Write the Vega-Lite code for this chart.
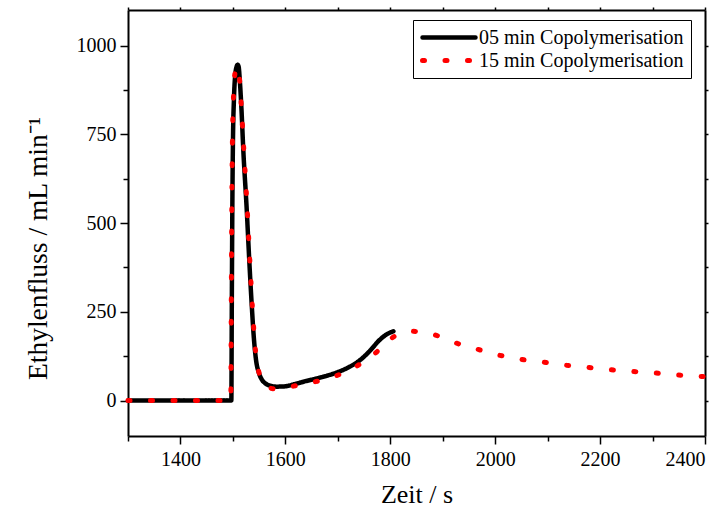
{
  "$schema": "https://vega.github.io/schema/vega-lite/v6.json",
  "width": 577,
  "height": 426,
  "autosize": "none",
  "padding": {"left": 128, "top": 10, "right": 21, "bottom": 78},
  "background": "white",
  "data": {
    "values": [
      {"s": "05 min Copolymerisation", "t": 1300, "f": 0},
      {"s": "05 min Copolymerisation", "t": 1400, "f": 0},
      {"s": "05 min Copolymerisation", "t": 1497, "f": 0},
      {"s": "05 min Copolymerisation", "t": 1498, "f": 300},
      {"s": "05 min Copolymerisation", "t": 1499, "f": 560},
      {"s": "05 min Copolymerisation", "t": 1500, "f": 720},
      {"s": "05 min Copolymerisation", "t": 1502, "f": 850},
      {"s": "05 min Copolymerisation", "t": 1504, "f": 910},
      {"s": "05 min Copolymerisation", "t": 1507, "f": 940},
      {"s": "05 min Copolymerisation", "t": 1509, "f": 946},
      {"s": "05 min Copolymerisation", "t": 1511, "f": 940},
      {"s": "05 min Copolymerisation", "t": 1513, "f": 905},
      {"s": "05 min Copolymerisation", "t": 1516, "f": 830},
      {"s": "05 min Copolymerisation", "t": 1520, "f": 700},
      {"s": "05 min Copolymerisation", "t": 1526, "f": 547},
      {"s": "05 min Copolymerisation", "t": 1531, "f": 400},
      {"s": "05 min Copolymerisation", "t": 1536, "f": 266},
      {"s": "05 min Copolymerisation", "t": 1540, "f": 175},
      {"s": "05 min Copolymerisation", "t": 1544, "f": 115},
      {"s": "05 min Copolymerisation", "t": 1550, "f": 76},
      {"s": "05 min Copolymerisation", "t": 1556, "f": 57},
      {"s": "05 min Copolymerisation", "t": 1562, "f": 48},
      {"s": "05 min Copolymerisation", "t": 1570, "f": 42},
      {"s": "05 min Copolymerisation", "t": 1583, "f": 39},
      {"s": "05 min Copolymerisation", "t": 1600, "f": 40},
      {"s": "05 min Copolymerisation", "t": 1620, "f": 47},
      {"s": "05 min Copolymerisation", "t": 1640, "f": 55},
      {"s": "05 min Copolymerisation", "t": 1660, "f": 62},
      {"s": "05 min Copolymerisation", "t": 1680, "f": 70},
      {"s": "05 min Copolymerisation", "t": 1700, "f": 80},
      {"s": "05 min Copolymerisation", "t": 1720, "f": 93},
      {"s": "05 min Copolymerisation", "t": 1740, "f": 111},
      {"s": "05 min Copolymerisation", "t": 1760, "f": 138},
      {"s": "05 min Copolymerisation", "t": 1780, "f": 171},
      {"s": "05 min Copolymerisation", "t": 1795, "f": 188},
      {"s": "05 min Copolymerisation", "t": 1806, "f": 195},
      {"s": "15 min Copolymerisation", "t": 1300, "f": 0},
      {"s": "15 min Copolymerisation", "t": 1400, "f": 0},
      {"s": "15 min Copolymerisation", "t": 1496, "f": 0},
      {"s": "15 min Copolymerisation", "t": 1497, "f": 300},
      {"s": "15 min Copolymerisation", "t": 1498, "f": 560},
      {"s": "15 min Copolymerisation", "t": 1499, "f": 720},
      {"s": "15 min Copolymerisation", "t": 1501, "f": 850},
      {"s": "15 min Copolymerisation", "t": 1503, "f": 910},
      {"s": "15 min Copolymerisation", "t": 1506, "f": 935},
      {"s": "15 min Copolymerisation", "t": 1508, "f": 940},
      {"s": "15 min Copolymerisation", "t": 1510, "f": 935},
      {"s": "15 min Copolymerisation", "t": 1513, "f": 900},
      {"s": "15 min Copolymerisation", "t": 1516, "f": 830},
      {"s": "15 min Copolymerisation", "t": 1521, "f": 700},
      {"s": "15 min Copolymerisation", "t": 1527, "f": 547},
      {"s": "15 min Copolymerisation", "t": 1532, "f": 400},
      {"s": "15 min Copolymerisation", "t": 1537, "f": 266},
      {"s": "15 min Copolymerisation", "t": 1541, "f": 175},
      {"s": "15 min Copolymerisation", "t": 1545, "f": 115},
      {"s": "15 min Copolymerisation", "t": 1551, "f": 72},
      {"s": "15 min Copolymerisation", "t": 1558, "f": 50},
      {"s": "15 min Copolymerisation", "t": 1566, "f": 38},
      {"s": "15 min Copolymerisation", "t": 1580, "f": 33},
      {"s": "15 min Copolymerisation", "t": 1600, "f": 36},
      {"s": "15 min Copolymerisation", "t": 1620, "f": 42},
      {"s": "15 min Copolymerisation", "t": 1640, "f": 48},
      {"s": "15 min Copolymerisation", "t": 1666, "f": 56},
      {"s": "15 min Copolymerisation", "t": 1690, "f": 66},
      {"s": "15 min Copolymerisation", "t": 1709, "f": 77},
      {"s": "15 min Copolymerisation", "t": 1730, "f": 92},
      {"s": "15 min Copolymerisation", "t": 1753, "f": 113},
      {"s": "15 min Copolymerisation", "t": 1775, "f": 138},
      {"s": "15 min Copolymerisation", "t": 1794, "f": 166},
      {"s": "15 min Copolymerisation", "t": 1815, "f": 186},
      {"s": "15 min Copolymerisation", "t": 1838, "f": 195},
      {"s": "15 min Copolymerisation", "t": 1860, "f": 193},
      {"s": "15 min Copolymerisation", "t": 1880, "f": 187},
      {"s": "15 min Copolymerisation", "t": 1923, "f": 163},
      {"s": "15 min Copolymerisation", "t": 1967, "f": 144},
      {"s": "15 min Copolymerisation", "t": 2001, "f": 130},
      {"s": "15 min Copolymerisation", "t": 2044, "f": 117},
      {"s": "15 min Copolymerisation", "t": 2087, "f": 109},
      {"s": "15 min Copolymerisation", "t": 2130, "f": 100},
      {"s": "15 min Copolymerisation", "t": 2173, "f": 94},
      {"s": "15 min Copolymerisation", "t": 2217, "f": 87},
      {"s": "15 min Copolymerisation", "t": 2260, "f": 82},
      {"s": "15 min Copolymerisation", "t": 2303, "f": 78},
      {"s": "15 min Copolymerisation", "t": 2347, "f": 72},
      {"s": "15 min Copolymerisation", "t": 2400, "f": 67}
    ]
  },
  "layer": [
    {
      "mark": {"type": "line", "opacity": 0},
      "encoding": {
        "x": {
          "field": "t", "type": "quantitative",
          "scale": {"domain": [1300, 2400], "nice": false, "zero": false},
          "axis": {
            "orient": "top", "values": [1300,1400,1500,1600,1700,1800,1900,2000,2100,2200,2300,2400],
            "labels": false, "title": null, "tickSize": 3, "tickWidth": 1.5, "domainWidth": 2, "grid": false
          }
        },
        "y": {
          "field": "f", "type": "quantitative",
          "scale": {"domain": [-100, 1100], "nice": false, "zero": false},
          "axis": {
            "orient": "right", "values": [0,125,250,375,500,625,750,875,1000],
            "labels": false, "title": null, "tickSize": 3, "tickWidth": 1.5, "domainWidth": 2, "grid": false
          }
        }
      }
    },
    {
      "mark": {"type": "line", "strokeCap": "round", "strokeJoin": "round", "interpolate": "monotone"},
      "encoding": {
        "x": {
          "field": "t", "type": "quantitative",
          "axis": {
            "orient": "bottom",
            "values": [1300,1400,1500,1600,1700,1800,1900,2000,2100,2200,2300,2400],
            "labelExpr": "datum.value % 200 === 0 ? datum.label : ''",
            "format": "d",
            "title": "Zeit / s",
            "labelFont": "Liberation Serif", "titleFont": "Liberation Serif",
            "labelFontSize": 20, "titleFontSize": 26, "titleFontWeight": "normal",
            "tickSize": {"condition": {"test": "datum.value % 200 === 0", "value": 8}, "value": 5},
            "tickWidth": 1.5, "domainWidth": 2, "grid": false,
            "labelPadding": 5, "titlePadding": 12
          }
        },
        "y": {
          "field": "f", "type": "quantitative",
          "axis": {
            "orient": "left",
            "values": [0,125,250,375,500,625,750,875,1000],
            "labelExpr": "datum.value % 250 === 0 ? datum.label : ''",
            "format": "d",
            "title": "Ethylenfluss / mL min⁻¹",
            "labelFont": "Liberation Serif", "titleFont": "Liberation Serif",
            "labelFontSize": 20, "titleFontSize": 27.5, "titleFontWeight": "normal",
            "titleY": 238,
            "tickSize": {"condition": {"test": "datum.value % 250 === 0", "value": 8}, "value": 5},
            "tickWidth": 1.5, "domainWidth": 2, "grid": false,
            "labelPadding": 4, "titlePadding": 24
          }
        },
        "strokeWidth": {
          "field": "s", "type": "nominal",
          "scale": {"domain": ["05 min Copolymerisation", "15 min Copolymerisation"], "range": [4.5, 5]},
          "legend": null
        },
        "color": {
          "field": "s", "type": "nominal",
          "scale": {"domain": ["05 min Copolymerisation", "15 min Copolymerisation"], "range": ["#000000", "#ff0000"]},
          "legend": {
            "orient": "none", "legendX": 285, "legendY": 10, "direction": "vertical",
            "title": null, "strokeColor": "#000000", "fillColor": "#ffffff",
            "padding": 7, "symbolType": "stroke", "symbolSize": 2809, "symbolStrokeWidth": 4.5,
            "labelFont": "Liberation Serif", "labelFontSize": 20, "labelColor": "#000000",
            "labelOffset": 1, "rowPadding": 2, "clipHeight": 21, "labelLimit": 400,
            "encode": {"symbols": {"update": {"strokeCap": {"value": "round"}}}}
          }
        },
        "strokeDash": {
          "field": "s", "type": "nominal",
          "scale": {"domain": ["05 min Copolymerisation", "15 min Copolymerisation"], "range": [[1, 0], [2, 20.5]]},
          "legend": {
            "orient": "none", "legendX": 285, "legendY": 10, "direction": "vertical",
            "title": null, "strokeColor": "#000000", "fillColor": "#ffffff",
            "padding": 7, "symbolType": "stroke", "symbolSize": 2809, "symbolStrokeWidth": 4.5,
            "labelFont": "Liberation Serif", "labelFontSize": 20, "labelColor": "#000000",
            "labelOffset": 1, "rowPadding": 2, "clipHeight": 21, "labelLimit": 400,
            "encode": {"symbols": {"update": {"strokeCap": {"value": "round"}}}}
          }
        }
      }
    }
  ],
  "resolve": {"axis": {"x": "independent", "y": "independent"}},
  "config": {
    "view": {"stroke": null},
    "font": "Liberation Serif",
    "axis": {
      "domainColor": "#000000", "tickColor": "#000000",
      "labelFont": "Liberation Serif", "labelFontSize": 20, "labelColor": "#000000",
      "titleFont": "Liberation Serif", "titleFontSize": 26, "titleFontWeight": "normal", "titleColor": "#000000"
    }
  }
}
